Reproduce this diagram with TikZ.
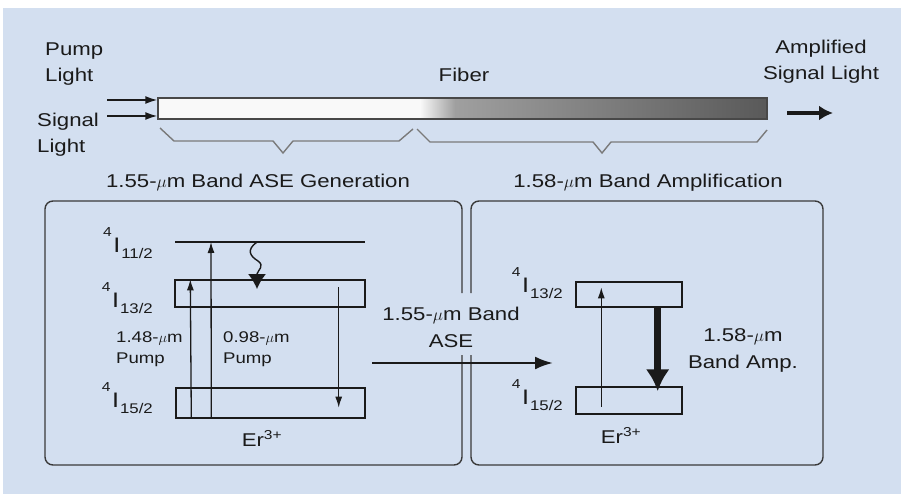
\documentclass[tikz,border=0pt]{standalone}
\usepackage{fontspec}
\setmainfont{Liberation Sans}[FakeStretch=1.2]
\usetikzlibrary{arrows.meta,positioning}
\definecolor{bgblue}{HTML}{D3DFF0}
\definecolor{ink}{HTML}{1A1A1A}
\definecolor{framegray}{HTML}{3A3A3A}
\definecolor{bracegray}{HTML}{7A7A7A}
\newcommand{\lvl}[1]{\raisebox{16pt}{\fontsize{13}{13}\selectfont 4}\kern1.5pt I\kern1pt\raisebox{-6pt}{\fontsize{14}{14}\selectfont #1}}
\tikzset{
  txt/.style={font=\fontsize{18.5}{26.5}\selectfont, text=ink, inner sep=0pt, align=center},
  smalltxt/.style={txt, font=\fontsize{15.5}{21}\selectfont, align=left},
  lvllbl/.style={font=\fontsize{21}{21}\selectfont, text=ink, inner sep=0pt, anchor=base east},
  levelbox/.style={draw=ink, line width=1.4pt, inner sep=0pt},
  levelline/.style={draw=ink, line width=1.4pt},
  panelframe/.style={draw=framegray, line width=1.4pt, rounded corners=8pt},
  bracepath/.style={draw=bracegray, line width=1.4pt},
  pump/.style={-{Latex[length=11pt,width=7pt]}, line width=1.3pt, draw=ink},
  inarrow/.style={-{Latex[length=12pt,width=8pt]}, line width=1.6pt, draw=ink},
  outarrow/.style={-{Latex[length=14pt,width=15pt]}, line width=4pt, draw=ink},
  asearrow/.style={-{Latex[length=18pt,width=13pt]}, line width=2.5pt, draw=ink},
  amparrow/.style={-{Latex[length=22pt,width=24pt]}, line width=7pt, draw=ink},
  wavy/.style={-{Latex[length=15pt,width=18pt]}, line width=1.4pt, draw=ink}
}
\begin{document}
\begin{tikzpicture}[x=1pt,y=-1pt]
\useasboundingbox (0,0) rectangle (901,494);
\fill[white] (0,0) rectangle (901,494);
\fill[bgblue] (3,8) rectangle (901,494);

% fiber
\fill[white!95!gray] (158,98) rectangle (420,119);
\shade[left color=white!95!gray, right color=gray!75] (420,98) rectangle (455,119);
\shade[left color=gray!75, right color=gray!70!black] (455,98) rectangle (767,119);
\node[draw=ink!80, line width=1.4pt, minimum width=609pt, minimum height=21pt, inner sep=0pt] (fiber) at (462.5,108.5) {};
\node[txt, anchor=base] (fiberlbl) at (464,82) {Fiber};

% multi-line labels: base is the last line
\node[txt, align=left, anchor=base west] (pumplbl) at (45,82) {Pump\\Light};
\node[txt, align=left, anchor=base west] (siglbl) at (37,153) {Signal\\Light};
\node[txt, anchor=base] (amplbl) at (821,80) {Amplified\\Signal Light};

\coordinate (pumpsrc) at (107,100);
\coordinate (sigsrc) at (107,116);
\draw[inarrow] (pumpsrc) -- (pumpsrc -| fiber.west);
\draw[inarrow] (sigsrc) -- (sigsrc -| fiber.west);
\coordinate (outsrc) at (787,113);
\coordinate (outdst) at (833,113);
\draw[outarrow] (outsrc) -- (outdst);

% braces
\draw[bracepath] (160,128) -- (174,141) -- (273,141) -- (283,153) -- (293,141) -- (399,141) -- (413,129);
\draw[bracepath] (417,129) -- (430,142) -- (593,142) -- (602,153) -- (611,142) -- (757,142) -- (767,130);
\node[txt, anchor=base] (genlbl) at (258,188) {1.55-$\mu$m Band ASE Generation};
\node[txt, anchor=base] (amplifylbl) at (648,188) {1.58-$\mu$m Band Amplification};

% panels
\draw[panelframe] (462,293) -- (462,201) -- (45,201) -- (45,465) -- (462,465) -- (462,355);
\draw[panelframe] (471,293) -- (471,201) -- (823,201) -- (823,465) -- (471,465) -- (471,355);

% left levels
\draw[levelline] (175,242) coordinate (l11w) -- (365,242) coordinate (l11e);
\node[levelbox, minimum width=190pt, minimum height=27pt] (l13L) at (270,293.5) {};
\node[levelbox, minimum width=189pt, minimum height=30pt] (l15L) at (270.5,403) {};
\node[lvllbl] (n11) at (153,252) {\lvl{11/2}};
\node[lvllbl] (n13L) at (153,307) {\lvl{13/2}};
\node[lvllbl] (n15L) at (153,407) {\lvl{15/2}};

\draw[pump] ([xshift=16pt]l15L.south west) -- ([xshift=16pt]l13L.north west);
\draw[pump] ([xshift=36pt]l15L.south west) -- ([xshift=36pt]l11w);
\draw[wavy] ([xshift=82pt]l11w) .. controls (246,250) and (250,256) .. (258,261)
  .. controls (265,266) and (258,270) .. (257,274) -- (257,289);
\draw[pump] ([xshift=-27pt,yshift=-8pt]l13L.north east) -- ([xshift=-27pt,yshift=11pt]l15L.south east);

\node[smalltxt, anchor=base west] (lbl148) at (116,363) {1.48-$\mu$m\\Pump};
\node[smalltxt, anchor=base west] (lbl098) at (223,363) {0.98-$\mu$m\\Pump};
\node[txt, anchor=base] (erL) at (262,446) {Er\textsuperscript{3+}};

% ASE transfer
\node[txt, anchor=base] (aselbl) at (451,347) {1.55-$\mu$m Band\\ASE};
\coordinate (asesrc) at (372,363);
\coordinate (asedst) at (553,363);
\draw[asearrow] (asesrc) -- (asedst);

% right levels
\node[levelbox, minimum width=106pt, minimum height=25pt] (l13R) at (629,294.5) {};
\node[levelbox, minimum width=106pt, minimum height=27pt] (l15R) at (629,400.5) {};
\node[lvllbl] (n13R) at (563,292) {\lvl{13/2}};
\node[lvllbl] (n15R) at (563,404) {\lvl{15/2}};
\draw[pump] ([xshift=26pt,yshift=8pt]l15R.south west) -- ([xshift=26pt,yshift=-6pt]l13R.north west);
\draw[amparrow] ([xshift=-25pt]l13R.south east) -- ([xshift=-25pt,yshift=-5pt]l15R.north east);
\node[txt, anchor=base] (bandamp) at (743,368) {1.58-$\mu$m\\Band Amp.};
\node[txt, anchor=base] (erR) at (621,443) {Er\textsuperscript{3+}};
\end{tikzpicture}
\end{document}
